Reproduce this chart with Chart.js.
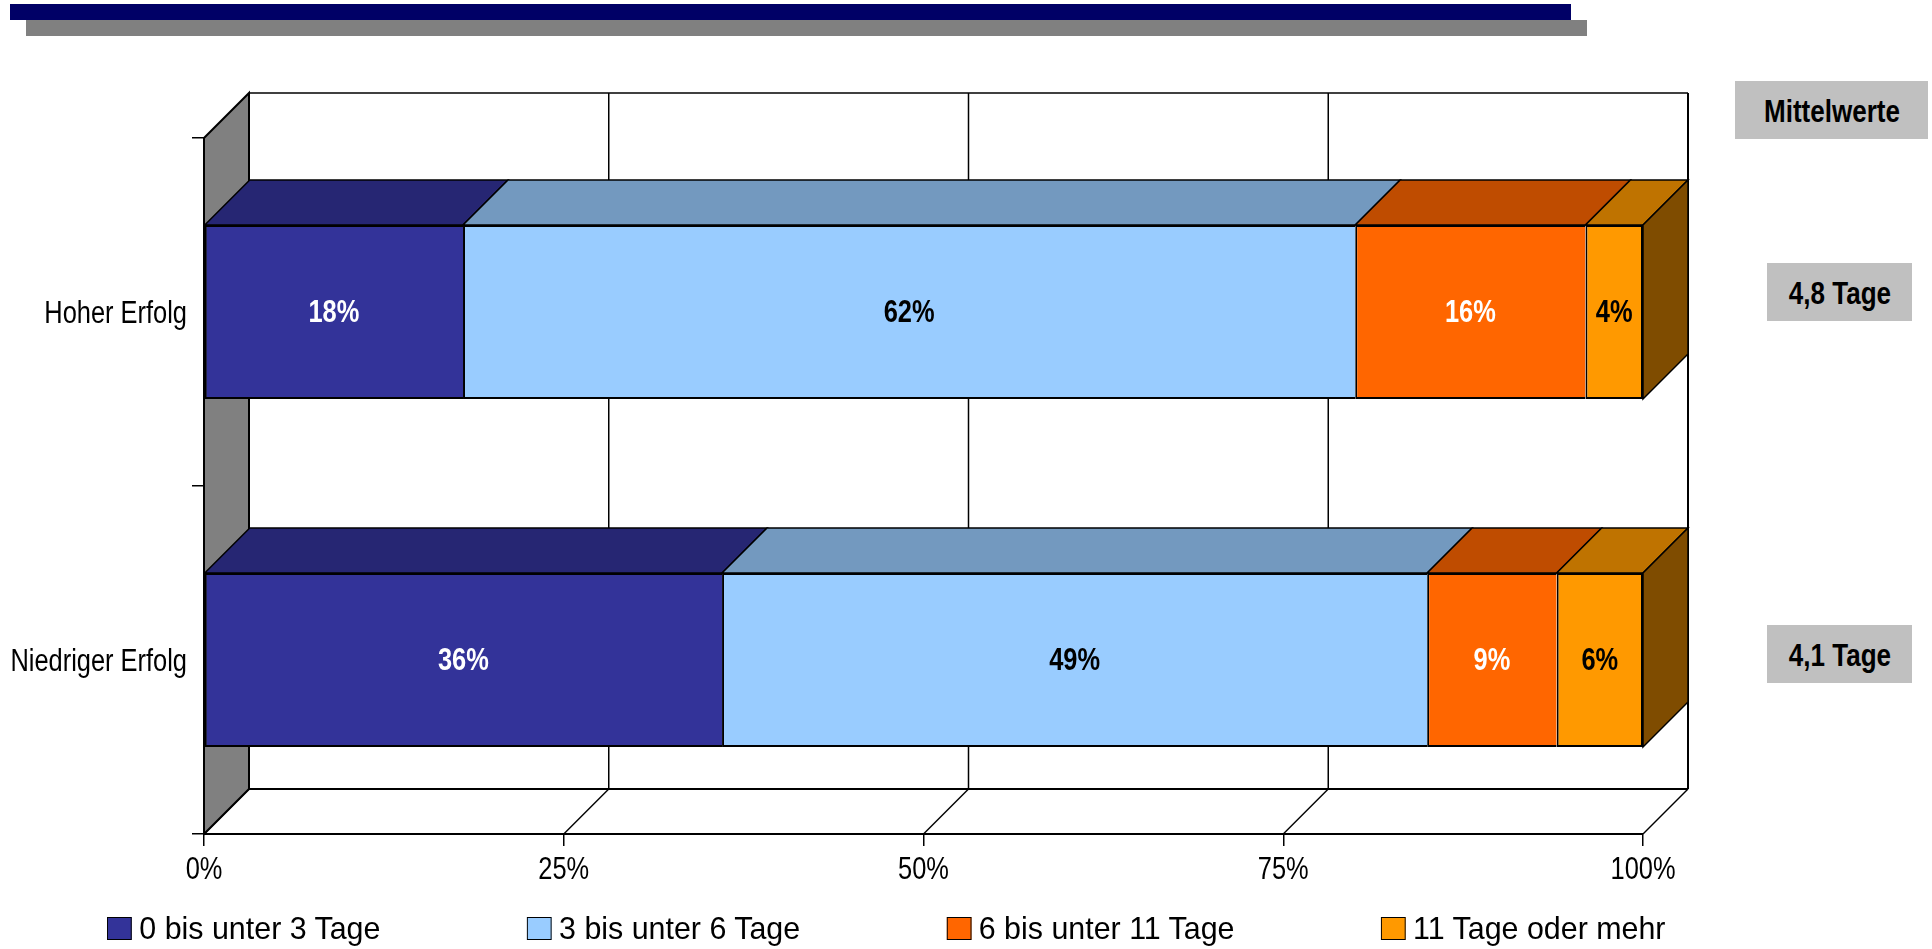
<!DOCTYPE html>
<html lang="de">
<head>
<meta charset="utf-8">
<title>Hoher und niedriger Erfolg</title>
<script src="https://cdn.jsdelivr.net/npm/chart.js@4/dist/chart.umd.min.js"></script>
<style>
    html, body { margin: 0; padding: 0; background: #fff; overflow: hidden; }
    #stage { position: relative; width: 1932px; height: 949px; }
    #chart { position: absolute; left: 0; top: 0; }
    .bar-navy { position: absolute; left: 10px; top: 4px; width: 1561px; height: 16px; background: #000066; }
    .bar-grey { position: absolute; left: 26px; top: 20px; width: 1561px; height: 16px; background: #808080; }
    .box {
        position: absolute; display: flex; align-items: center; justify-content: center;
        background: #C0C0C0; color: #000; height: 58px;
        font: bold 31px 'Liberation Sans', Arial, sans-serif;
    }
    .box span { display: inline-block; transform: scaleX(0.84); white-space: nowrap; position: relative; top: 2px; }
    #legend {
        position: absolute; left: 107px; top: 910px; display: flex; gap: 154px;
        font: 32px 'Liberation Sans', Arial, sans-serif; color: #000; white-space: nowrap;
        transform: scaleX(0.95); transform-origin: left top;
    }
    #legend .item { display: flex; align-items: center; }
    #legend .swatch { width: 24px; height: 21px; border: 1.5px solid #000; margin-right: 8px; }
</style>
</head>
<body>
<div id="stage">
    <div class="bar-navy"></div>
    <div class="bar-grey"></div>
    <canvas id="chart" width="1932" height="949"></canvas>
    <div id="boxes"></div>
    <div id="legend"></div>
</div>
<script>
const categories  = ['Hoher Erfolg', 'Niedriger Erfolg'];
const seriesNames = ['0 bis unter 3 Tage', '3 bis unter 6 Tage', '6 bis unter 11 Tage', '11 Tage oder mehr'];
const shortStay   = [18, 36];
const midStay     = [62, 49];
const longStay    = [16, 9];
const longestStay = [4, 6];
const tickValues  = [0, 25, 50, 75, 100];
const meanLabels  = ['4,8 Tage', '4,1 Tage'];

const seriesColors = ['#333399', '#99CCFF', '#FF6600', '#FF9900'];
const topColors    = ['#262673', '#7399BF', '#BF4C00', '#BF7300'];
const sideColors   = ['#1A1A4C', '#4C667F', '#7F3300', '#7F4C00'];
const labelColors  = ['#fff', '#000', '#fff', '#000'];

const FONT = "'Liberation Sans', Arial, sans-serif";
const DEPTH = 45;          // offset of the back wall from the front plane
const TEXT_SQUEEZE = 0.82; // all canvas text is set narrower than the font

function poly(ctx, pts, fill, lineWidth) {
    ctx.beginPath();
    pts.forEach((p, i) => i ? ctx.lineTo(p[0], p[1]) : ctx.moveTo(p[0], p[1]));
    ctx.closePath();
    if (fill) { ctx.fillStyle = fill; ctx.fill(); }
    ctx.lineWidth = lineWidth || 1.5;
    ctx.strokeStyle = '#000';
    ctx.stroke();
}

function line(ctx, x1, y1, x2, y2, lineWidth) {
    ctx.beginPath();
    ctx.moveTo(x1, y1);
    ctx.lineTo(x2, y2);
    ctx.lineWidth = lineWidth || 1.5;
    ctx.strokeStyle = '#000';
    ctx.stroke();
}

// fake 3D box: side wall, floor, back wall and the top/side faces of the bars
const box3d = {
    id: 'box3d',
    beforeDraw(chart) {
        // narrow the text around its anchor, Chart.js has no option for it
        const ctx = chart.ctx;
        const fillText = ctx.fillText;
        ctx.fillText = function (text, x, y) {
            this.save();
            this.translate(x, y + 2);
            this.scale(TEXT_SQUEEZE, 1);
            fillText.call(this, text, 0, 0);
            this.restore();
        };
    },
    beforeDatasetsDraw(chart) {
        const { ctx, chartArea: a, scales } = chart;
        const d = DEPTH;
        ctx.save();

        ctx.fillStyle = '#fff';
        ctx.fillRect(a.left + d, a.top - d, a.width, a.height);
        scales.x.ticks.forEach(t => {
            const x = scales.x.getPixelForValue(t.value);
            line(ctx, x + d, a.top - d, x + d, a.bottom - d, 1.5);
            line(ctx, x, a.bottom, x + d, a.bottom - d, 1.5);
        });
        line(ctx, a.left + d, a.top - d, a.right + d, a.top - d, 1.5);
        line(ctx, a.left + d, a.bottom - d, a.right + d, a.bottom - d, 2);
        line(ctx, a.right + d, a.top - d, a.right + d, a.bottom - d, 2);

        poly(ctx, [[a.left, a.top], [a.left + d, a.top - d], [a.left + d, a.bottom - d], [a.left, a.bottom]], '#808080', 2);

        chart.data.datasets.forEach((ds, i) => {
            chart.getDatasetMeta(i).data.forEach(bar => {
                const top = bar.y - bar.height / 2;
                const bottom = bar.y + bar.height / 2;
                poly(ctx, [[bar.base, top], [bar.base + d, top - d], [bar.x + d, top - d], [bar.x, top]], topColors[i]);
                if (i === chart.data.datasets.length - 1) {
                    poly(ctx, [[bar.x, top], [bar.x + d, top - d], [bar.x + d, bottom - d], [bar.x, bottom]], sideColors[i]);
                }
            });
        });
        ctx.restore();
    },
    // percentages in the middle of each bar segment
    afterDatasetsDraw(chart) {
        const { ctx } = chart;
        ctx.save();
        ctx.font = 'bold 31px ' + FONT;
        ctx.textAlign = 'center';
        ctx.textBaseline = 'middle';
        chart.data.datasets.forEach((ds, i) => {
            chart.getDatasetMeta(i).data.forEach((bar, j) => {
                ctx.fillStyle = labelColors[i];
                ctx.fillText(ds.data[j] + '%', (bar.base + bar.x) / 2, bar.y - 1);
            });
        });
        ctx.restore();
    }
};

const seriesValues = [shortStay, midStay, longStay, longestStay];

new Chart(document.getElementById('chart'), {
    type: 'bar',
    data: {
        labels: categories,
        datasets: seriesValues.map((values, i) => ({
            label: seriesNames[i],
            data: values,
            backgroundColor: seriesColors[i],
            borderColor: '#000',
            borderWidth: i === seriesValues.length - 1 ? 2 : { top: 2, bottom: 2, left: 2, right: 0 },
            borderSkipped: false,
            inflateAmount: 0,
            barPercentage: 0.5,
            categoryPercentage: 1
        }))
    },
    options: {
        indexAxis: 'y',
        responsive: false,
        animation: false,
        layout: { padding: { top: 138, right: 289, left: 0, bottom: 0 } },
        plugins: { legend: { display: false }, tooltip: { enabled: false } },
        scales: {
            x: {
                stacked: true,
                min: 0,
                max: 100,
                afterBuildTicks(scale) { scale.ticks = tickValues.map(value => ({ value })); },
                afterFit(scale) { scale.height = 115; },
                grid: { drawOnChartArea: false, drawTicks: true, tickLength: 12, color: '#000', lineWidth: 1.5 },
                border: { display: true, color: '#000', width: 2 },
                ticks: {
                    padding: 4,
                    maxRotation: 0,
                    autoSkip: false,
                    color: '#000',
                    font: { family: FONT, size: 31 },
                    callback: v => v + '%'
                }
            },
            y: {
                stacked: true,
                afterFit(scale) { scale.width = 204; },
                grid: { drawOnChartArea: false, drawTicks: true, tickLength: 12, color: '#000', lineWidth: 1.5 },
                border: { display: true, color: '#000', width: 1.5 },
                ticks: {
                    padding: 5,
                    color: '#000',
                    font: { family: FONT, size: 31 }
                }
            }
        }
    },
    plugins: [box3d]
});

// grey boxes with the mean values right of the chart
const boxes = document.getElementById('boxes');
function addBox(text, left, top, width) {
    const el = document.createElement('div');
    el.className = 'box';
    const label = document.createElement('span');
    label.textContent = text;
    el.appendChild(label);
    el.style.left = left + 'px';
    el.style.top = top + 'px';
    el.style.width = width + 'px';
    boxes.appendChild(el);
}
addBox('Mittelwerte', 1735, 81, 193);
addBox(meanLabels[0], 1767, 263, 145);
addBox(meanLabels[1], 1767, 625, 145);

// legend row below the axis
const legend = document.getElementById('legend');
seriesNames.forEach((name, i) => {
    const item = document.createElement('div');
    item.className = 'item';
    const swatch = document.createElement('span');
    swatch.className = 'swatch';
    swatch.style.background = seriesColors[i];
    item.appendChild(swatch);
    item.appendChild(document.createTextNode(name));
    legend.appendChild(item);
});
</script>
</body>
</html>
